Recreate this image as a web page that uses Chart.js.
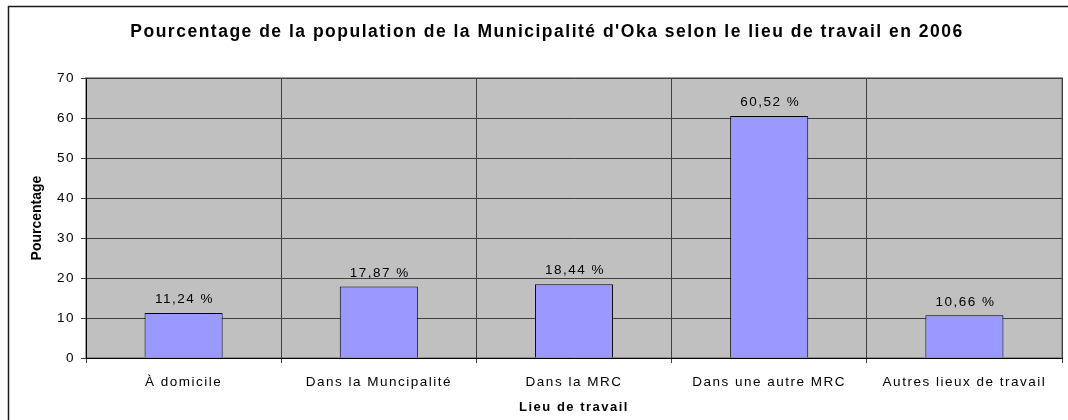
<!DOCTYPE html>
<html>
<head>
<meta charset="utf-8">
<script src="https://cdn.jsdelivr.net/npm/chart.js@4.4.1/dist/chart.umd.min.js"></script>
<style>
    body { margin: 0; background: #fff; }
    #chart { display: block; }
</style>
</head>
<body>
<canvas id="chart" width="1068" height="420"></canvas>
<script>
// Chart data
const categories = ['À domicile', 'Dans la Muncipalité', 'Dans la MRC', 'Dans une autre MRC', 'Autres lieux de travail'];
const percentages = [11.24, 17.87, 18.44, 60.52, 10.66];
const yTicks = [0, 10, 20, 30, 40, 50, 60, 70];

const FONT = '"Liberation Sans", Arial, sans-serif';
const SPACING = '1.5px'; // the original text is drawn wide

// Gray plot background, outer frame, value labels and y axis title
const decorPlugin = {
    id: 'decor',
    afterInit(chart) {
        chart.ctx.letterSpacing = SPACING;
    },
    beforeDraw(chart) {
        const ctx = chart.ctx;
        const a = chart.chartArea;
        ctx.save();
        ctx.fillStyle = '#fff';
        ctx.fillRect(0, 0, chart.width, chart.height);
        ctx.fillStyle = '#c0c0c0';
        ctx.fillRect(a.left, a.top, a.right - a.left, a.bottom - a.top);
        ctx.strokeStyle = '#808080';
        ctx.lineWidth = 1.5;
        ctx.strokeRect(a.left, a.top, a.right - a.left, a.bottom - a.top);
        // outer frame (cropped on the right and bottom)
        ctx.strokeStyle = '#1a1a1a';
        ctx.lineWidth = 1.5;
        ctx.beginPath();
        ctx.moveTo(8.5, chart.height);
        ctx.lineTo(8.5, 6.5);
        ctx.lineTo(chart.width, 6.5);
        ctx.stroke();
        ctx.restore();
    },
    afterDatasetsDraw(chart) {
        const ctx = chart.ctx;
        const meta = chart.getDatasetMeta(0);
        ctx.save();
        ctx.font = '13.5px ' + FONT;
        ctx.fillStyle = '#000';
        ctx.textAlign = 'center';
        ctx.textBaseline = 'middle';
        meta.data.forEach(function(bar, i) {
            const label = percentages[i].toFixed(2).replace('.', ',') + ' %';
            ctx.fillText(label, bar.x + 1, bar.y - 13.5);
        });
        ctx.restore();
    },
    afterDraw(chart) {
        const ctx = chart.ctx;
        const a = chart.chartArea;
        ctx.save();
        ctx.letterSpacing = '0px';
        ctx.font = 'bold 14px "Liberation Sans Narrow", ' + FONT;
        ctx.fillStyle = '#000';
        ctx.textAlign = 'center';
        ctx.textBaseline = 'middle';
        ctx.translate(37, (a.top + a.bottom) / 2);
        ctx.rotate(-Math.PI / 2);
        ctx.fillText('Pourcentage', 0, 0);
        ctx.restore();
    }
};

const ctx = document.getElementById('chart').getContext('2d');
new Chart(ctx, {
    type: 'bar',
    data: {
        labels: categories,
        datasets: [{
            data: percentages,
            backgroundColor: '#9999ff',
            borderColor: '#000',
            borderWidth: 1,
            categoryPercentage: 1,
            barPercentage: 0.4
        }]
    },
    options: {
        responsive: false,
        animation: false,
        devicePixelRatio: 1,
        layout: { padding: { left: 32, right: 6, top: 0, bottom: 0 } },
        plugins: {
            legend: { display: false },
            tooltip: { enabled: false },
            title: {
                display: true,
                text: "Pourcentage de la population de la Municipalité d'Oka selon le lieu de travail en 2006",
                color: '#000',
                font: { family: FONT, size: 17.5, weight: 'bold' },
                padding: { top: 22, bottom: 35 }
            }
        },
        scales: {
            x: {
                grid: {
                    color: '#404040',
                    lineWidth: 1,
                    tickLength: 5,
                    offset: true
                },
                border: { color: '#000', width: 1 },
                ticks: {
                    color: '#000',
                    font: { family: FONT, size: 13.5 },
                    padding: 11,
                    maxRotation: 0
                },
                title: {
                    display: true,
                    text: 'Lieu de travail',
                    color: '#000',
                    font: { family: FONT, size: 13, weight: 'bold' },
                    padding: { top: 4, bottom: 5 }
                },
                afterFit(scale) { scale.height = 62; }
            },
            y: {
                min: 0,
                max: 70,
                afterBuildTicks(scale) {
                    scale.ticks = yTicks.map(v => ({ value: v }));
                },
                grid: {
                    color: '#404040',
                    lineWidth: 1,
                    tickLength: 5
                },
                border: { color: '#000', width: 1 },
                ticks: {
                    color: '#000',
                    font: { family: FONT, size: 13.5 },
                    padding: 6
                },
                title: { display: false },
                afterFit(scale) { scale.width = 54; }
            }
        }
    },
    plugins: [decorPlugin]
});
</script>
</body>
</html>
